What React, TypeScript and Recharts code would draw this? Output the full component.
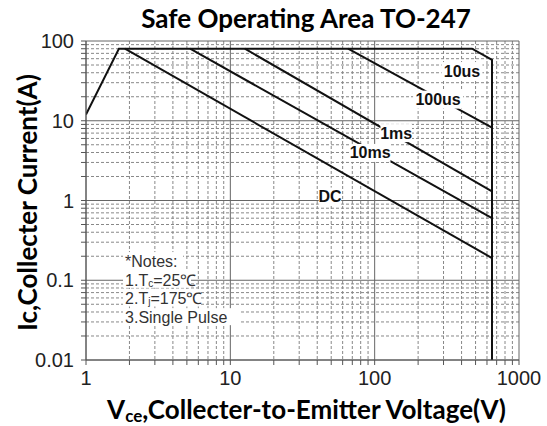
import React from 'react';
import { ComposedChart, Line, Scatter, XAxis, YAxis, CartesianGrid, Label } from 'recharts';

const xTicks = [1, 2, 3, 4, 5, 6, 7, 8, 9, 10, 20, 30, 40, 50, 60, 70, 80, 90, 100, 200, 300, 400, 500, 600, 700, 800, 900, 1000];
const xMajor = [1, 10, 100, 1000];
const yTicks = [0.01, 0.02, 0.03, 0.04, 0.05, 0.06, 0.07, 0.08, 0.09, 0.1, 0.2, 0.3, 0.4, 0.5, 0.6, 0.7, 0.8, 0.9, 1, 2, 3, 4, 5, 6, 7, 8, 9, 10, 20, 30, 40, 50, 60, 70, 80, 90, 100];
const yMajor = [0.01, 0.1, 1, 10, 100];
const xMinor = xTicks.filter((v) => !xMajor.includes(v));
const yMinor = yTicks.filter((v) => !yMajor.includes(v));

const boundary = [
  { x: 1, y: 12 },
  { x: 1.69, y: 80 },
  { x: 473, y: 80 },
  { x: 650, y: 58 },
  { x: 650, y: 0.01 },
];
const dcLine = [{ x: 1.86, y: 80 }, { x: 650, y: 0.19 }];
const ms10Line = [{ x: 5.26, y: 80 }, { x: 650, y: 0.6 }];
const ms1Line = [{ x: 12.6, y: 80 }, { x: 650, y: 1.3 }];
const us100Line = [{ x: 65.4, y: 80 }, { x: 650, y: 8.2 }];

const curveLabels = [
  { x: 403, y: 42, text: '10us' },
  { x: 275, y: 18.4, text: '100us' },
  { x: 141, y: 7, text: '1ms' },
  { x: 93, y: 3.95, text: '10ms' },
  { x: 49, y: 1.12, text: 'DC' },
];

const notesAnchor = [{ x: 1.864, y: 0.174 }];
const noteLines: string[][] = [
  ['*Notes:'],
  ['1.T', 'c', '=25℃'],
  ['2.T', 'j', '=175℃'],
  ['3.Single Pulse'],
];

const FONT = '"Liberation Sans", Arial, sans-serif';
const TITLE_FONT = 'Lato, "Open Sans", sans-serif';

const CurveLabel = (props: any) => {
  const { cx, cy, payload } = props;
  if (cx == null || cy == null) return null;
  const w = payload.text.length * 9.2 + 4;
  return (
    <g>
      <rect x={cx - w / 2} y={cy - 9} width={w} height={18} fill="#fff" />
      <text x={cx} y={cy} textAnchor="middle" dominantBaseline="central" fontFamily={FONT} fontWeight="bold" fontSize={16} fill="#111">
        {payload.text}
      </text>
    </g>
  );
};

const NotesShape = (props: any) => {
  const { cx, cy } = props;
  if (cx == null || cy == null) return null;
  return (
    <g>
      {noteLines.map((parts, i) => {
        const len = parts.join('').length;
        const w = len * 8 + 4;
        const y = cy + i * 18.7;
        return (
          <g key={i}>
            <rect x={cx - 2} y={y - 9} width={w} height={17} fill="#fff" />
            <text x={cx} y={y} dominantBaseline="central" fontFamily={FONT} fontSize={16} fill="#333">
              {parts.length === 1 ? (
                parts[0]
              ) : (
                <>
                  <tspan>{parts[0]}</tspan>
                  <tspan fontSize={10} dy={3}>{parts[1]}</tspan>
                  <tspan dy={-3}>{parts[2]}</tspan>
                </>
              )}
            </text>
          </g>
        );
      })}
    </g>
  );
};

const XTitle = (props: any) => {
  const vb = props.viewBox || {};
  const cx = vb.x + vb.width / 2 + 4;
  const y = vb.y + 59;
  return (
    <text x={cx} y={y} textAnchor="middle" fontFamily={TITLE_FONT} fontWeight="bold" fontSize={26} fill="#000">
      <tspan>V</tspan>
      <tspan fontSize={17} dy={3}>ce</tspan>
      <tspan dy={-3}>,Collecter-to-Emitter Voltage(V)</tspan>
    </text>
  );
};

const YTitle = (props: any) => {
  const vb = props.viewBox || {};
  const cx = 27;
  const cy = vb.y + vb.height / 2 + 2;
  return (
    <text x={cx} y={cy} transform={`rotate(-90, ${cx}, ${cy})`} textAnchor="middle" dominantBaseline="central" fontFamily={TITLE_FONT} fontWeight="bold" fontSize={26} fill="#000">
      Ic,Collecter Current(A)
    </text>
  );
};

const xMajorSet = new Set(xMajor);
const yMajorSet = new Set(yMajor);

export default function App() {
  return (
    <div style={{ position: 'absolute', left: 0, top: 0, width: 547, height: 426, background: '#fff' }}>
      <div
        style={{
          position: 'absolute',
          left: 106,
          top: 3,
          width: 400,
          textAlign: 'center',
          fontFamily: TITLE_FONT,
          fontWeight: 'bold',
          fontSize: 26,
          lineHeight: '30px',
          color: '#000',
        }}
      >
        Safe Operating Area TO-247
      </div>
      <ComposedChart width={547} height={426} margin={{ top: 41, right: 28, bottom: 26, left: 26 }}>
        <CartesianGrid
          horizontalValues={yMinor}
          verticalValues={xMinor}
          stroke="#888"
          strokeDasharray="3 2"
        />
        <CartesianGrid
          horizontalValues={yMajor}
          verticalValues={xMajor}
          stroke="#666"
        />
        <XAxis
          dataKey="x"
          type="number"
          scale="log"
          domain={[1, 1000]}
          ticks={xTicks}
          interval={0}
          allowDataOverflow
          height={40}
          tickSize={5}
          tickMargin={6}
          stroke="#555"
          tick={{ fill: '#222', fontSize: 20, fontFamily: FONT }}
          tickFormatter={(v: number) => (xMajorSet.has(v) ? String(v) : '')}
        >
          <Label content={XTitle} />
        </XAxis>
        <YAxis
          dataKey="y"
          type="number"
          scale="log"
          domain={[0.01, 100]}
          ticks={yTicks}
          interval={0}
          allowDataOverflow
          width={60}
          tickSize={5}
          tickMargin={7}
          stroke="#555"
          tick={{ fill: '#222', fontSize: 20, fontFamily: FONT }}
          tickFormatter={(v: number) => (yMajorSet.has(v) ? String(v) : '')}
        >
          <Label content={YTitle} />
        </YAxis>
        <Line data={boundary} dataKey="y" stroke="#111" strokeWidth={2} dot={false} isAnimationActive={false} />
        <Line data={dcLine} dataKey="y" stroke="#111" strokeWidth={2} dot={false} isAnimationActive={false} />
        <Line data={ms10Line} dataKey="y" stroke="#111" strokeWidth={2} dot={false} isAnimationActive={false} />
        <Line data={ms1Line} dataKey="y" stroke="#111" strokeWidth={2} dot={false} isAnimationActive={false} />
        <Line data={us100Line} dataKey="y" stroke="#111" strokeWidth={2} dot={false} isAnimationActive={false} />
        <Scatter data={curveLabels} dataKey="y" shape={CurveLabel} isAnimationActive={false} />
        <Scatter data={notesAnchor} dataKey="y" shape={NotesShape} isAnimationActive={false} />
      </ComposedChart>
    </div>
  );
}
